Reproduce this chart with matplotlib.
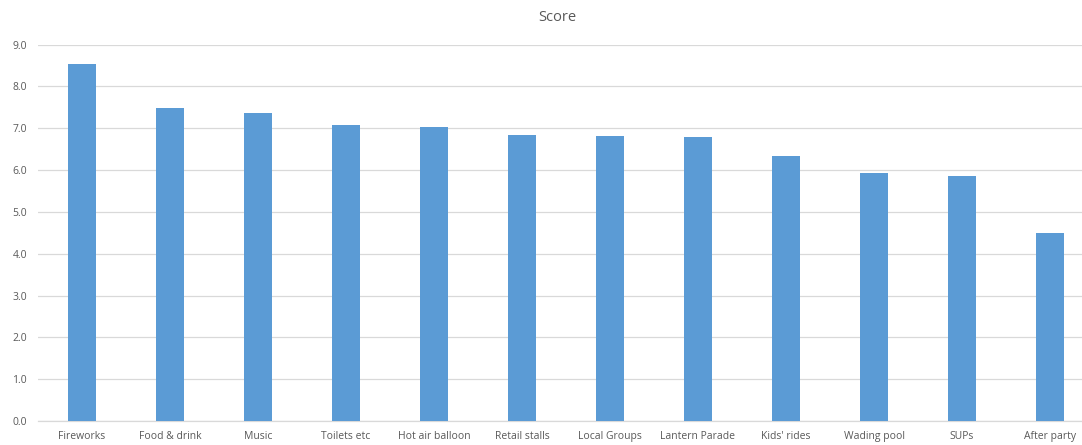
import matplotlib
matplotlib.use("Agg")
import matplotlib.pyplot as plt
import numpy as np

# values
categories = ["Fireworks", "Food & drink", "Music", "Toilets etc", "Hot air balloon",
              "Retail stalls", "Local Groups", "Lantern Parade", "Kids' rides",
              "Wading pool", "SUPs", "After party"]
scores = [8.53, 7.48, 7.36, 7.08, 7.03, 6.83, 6.82, 6.79, 6.33, 5.93, 5.85, 4.50]

plt.rcParams['font.family'] = ['Open Sans', 'DejaVu Sans']

fig = plt.figure(figsize=(10.82, 4.45), dpi=100)
# the original chart runs a little past the right edge of the image
ax = fig.add_axes([0.0351, 0.054, 0.976, 0.8456])

x = np.arange(len(categories))
ax.bar(x, scores, width=0.32, color='#5B9BD5', zorder=3)

ax.set_xlim(-0.5, len(categories) - 0.5)
ax.set_ylim(0, 9)
ax.set_yticks(np.arange(0, 9.5, 1.0))
ax.set_yticklabels([f"{v:.1f}" for v in np.arange(0, 9.5, 1.0)])
ax.set_xticks(x)
ax.set_xticklabels(categories)

ax.grid(axis='y', color='#D9D9D9', linewidth=0.9, zorder=0)
for s in ['top', 'right', 'left']:
    ax.spines[s].set_visible(False)
ax.spines['bottom'].set_color('#D9D9D9')
ax.spines['bottom'].set_linewidth(0.9)
ax.tick_params(axis='both', length=0, labelsize=7.5, colors='#595959')
ax.tick_params(axis='x', pad=7)
ax.tick_params(axis='y', pad=8)

fig.text(0.5154, 0.96, "Score", ha='center', va='center', fontsize=10.5, color='#595959')

fig.savefig("out.png", dpi=100)
